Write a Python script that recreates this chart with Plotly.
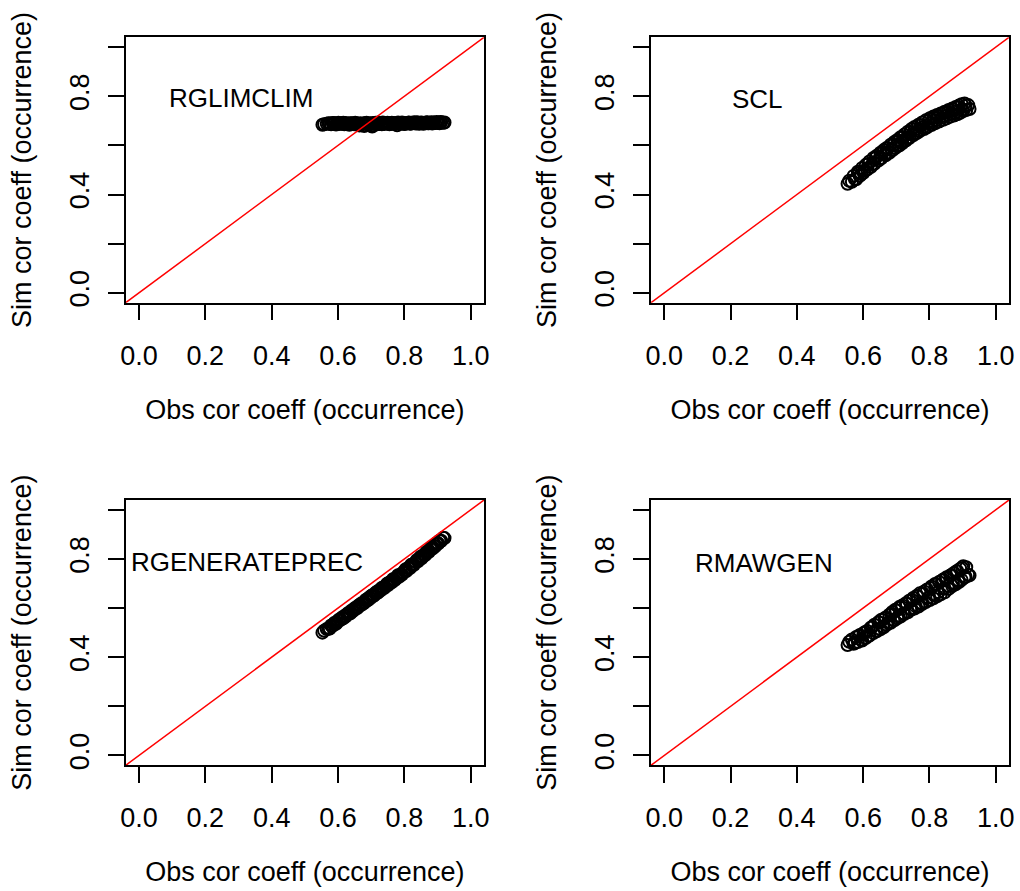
import plotly.graph_objects as go

# Observed inter-station correlation of precipitation occurrence (shared by all panels)
obs_cor = [
    0.553, 0.566, 0.571, 0.579, 0.584, 0.590, 0.597, 0.601, 0.608, 0.612,
    0.619, 0.623, 0.631, 0.634, 0.641, 0.646, 0.652, 0.655, 0.662, 0.668,
    0.671, 0.679, 0.683, 0.688, 0.694, 0.697, 0.703, 0.709, 0.713, 0.718,
    0.724, 0.729, 0.735, 0.739, 0.746, 0.751, 0.755, 0.762, 0.767, 0.771,
    0.778, 0.784, 0.789, 0.793, 0.801, 0.806, 0.812, 0.817, 0.823, 0.829,
    0.834, 0.841, 0.846, 0.852, 0.858, 0.863, 0.869, 0.874, 0.879, 0.884,
    0.889, 0.893, 0.897, 0.902, 0.906, 0.911, 0.917, 0.921,
    0.558, 0.575, 0.587, 0.594, 0.605, 0.616, 0.627, 0.638, 0.649, 0.659,
    0.665, 0.675, 0.686, 0.691, 0.700, 0.706, 0.716, 0.721, 0.732, 0.742,
    0.749, 0.758, 0.765, 0.775, 0.781, 0.797, 0.804, 0.814, 0.820, 0.826,
    0.838, 0.844, 0.849, 0.855, 0.866, 0.871, 0.882, 0.887, 0.899, 0.909,
]

# Simulated correlations, one series per weather generator
sim_rglimclim = [
    0.684, 0.688, 0.690, 0.686, 0.691, 0.689, 0.687, 0.692, 0.688, 0.690,
    0.686, 0.691, 0.689, 0.684, 0.690, 0.687, 0.692, 0.688, 0.683, 0.690,
    0.686, 0.679, 0.691, 0.688, 0.684, 0.690, 0.677, 0.689, 0.692, 0.686,
    0.690, 0.688, 0.693, 0.687, 0.691, 0.689, 0.686, 0.692, 0.690, 0.688,
    0.682, 0.691, 0.689, 0.693, 0.687, 0.690, 0.692, 0.688, 0.691, 0.694,
    0.689, 0.692, 0.690, 0.693, 0.688, 0.691, 0.694, 0.690, 0.692, 0.689,
    0.693, 0.691, 0.695, 0.692, 0.690, 0.694, 0.692, 0.693,
    0.686, 0.689, 0.691, 0.685, 0.688, 0.692, 0.687, 0.690, 0.686, 0.689,
    0.681, 0.688, 0.692, 0.685, 0.680, 0.691, 0.688, 0.693, 0.686, 0.690,
    0.692, 0.687, 0.691, 0.689, 0.693, 0.688, 0.690, 0.693, 0.689, 0.691,
    0.694, 0.688, 0.692, 0.690, 0.693, 0.690, 0.694, 0.691, 0.692, 0.695,
]
sim_scl = [
    0.444, 0.452, 0.476, 0.462, 0.493, 0.476, 0.508, 0.489, 0.521, 0.502,
    0.535, 0.512, 0.549, 0.525, 0.558, 0.538, 0.570, 0.548, 0.581, 0.560,
    0.590, 0.570, 0.603, 0.580, 0.614, 0.589, 0.622, 0.600, 0.633, 0.609,
    0.644, 0.620, 0.656, 0.630, 0.667, 0.641, 0.675, 0.650, 0.684, 0.658,
    0.693, 0.667, 0.702, 0.674, 0.711, 0.683, 0.718, 0.690, 0.724, 0.697,
    0.730, 0.704, 0.737, 0.710, 0.744, 0.717, 0.750, 0.722, 0.756, 0.727,
    0.762, 0.733, 0.768, 0.740, 0.771, 0.744, 0.764, 0.748,
    0.456, 0.463, 0.488, 0.484, 0.498, 0.524, 0.524, 0.549, 0.546, 0.570,
    0.563, 0.587, 0.583, 0.603, 0.598, 0.618, 0.613, 0.633, 0.630, 0.654,
    0.646, 0.667, 0.660, 0.682, 0.673, 0.699, 0.691, 0.712, 0.702, 0.720,
    0.713, 0.731, 0.720, 0.737, 0.729, 0.746, 0.738, 0.754, 0.745, 0.762,
]
sim_rgenerateprec = [
    0.500, 0.515, 0.516, 0.529, 0.528, 0.540, 0.541, 0.551, 0.552, 0.562,
    0.568, 0.566, 0.580, 0.577, 0.590, 0.589, 0.601, 0.598, 0.611, 0.611,
    0.620, 0.622, 0.632, 0.631, 0.643, 0.640, 0.652, 0.652, 0.662, 0.661,
    0.673, 0.672, 0.684, 0.682, 0.695, 0.694, 0.704, 0.705, 0.716, 0.714,
    0.727, 0.727, 0.738, 0.737, 0.751, 0.751, 0.763, 0.763, 0.776, 0.776,
    0.788, 0.790, 0.802, 0.803, 0.816, 0.816, 0.829, 0.829, 0.841, 0.841,
    0.853, 0.852, 0.863, 0.863, 0.874, 0.874, 0.886, 0.885,
    0.508, 0.517, 0.535, 0.536, 0.553, 0.558, 0.575, 0.580, 0.597, 0.601,
    0.613, 0.617, 0.635, 0.634, 0.649, 0.649, 0.665, 0.664, 0.682, 0.687,
    0.700, 0.704, 0.717, 0.721, 0.734, 0.745, 0.758, 0.764, 0.776, 0.777,
    0.796, 0.797, 0.809, 0.810, 0.828, 0.828, 0.847, 0.846, 0.866, 0.872,
]
sim_rmawgen = [
    0.450, 0.472, 0.455, 0.482, 0.462, 0.490, 0.468, 0.498, 0.478, 0.507,
    0.488, 0.520, 0.498, 0.532, 0.506, 0.543, 0.514, 0.553, 0.522, 0.562,
    0.532, 0.573, 0.540, 0.584, 0.550, 0.593, 0.558, 0.604, 0.566, 0.611,
    0.576, 0.620, 0.583, 0.630, 0.594, 0.641, 0.598, 0.650, 0.606, 0.660,
    0.616, 0.668, 0.625, 0.676, 0.633, 0.688, 0.640, 0.698, 0.648, 0.706,
    0.656, 0.716, 0.664, 0.726, 0.678, 0.733, 0.690, 0.743, 0.697, 0.751,
    0.706, 0.760, 0.715, 0.770, 0.724, 0.766, 0.736, 0.733,
    0.463, 0.458, 0.487, 0.470, 0.502, 0.487, 0.523, 0.508, 0.541, 0.525,
    0.558, 0.540, 0.576, 0.552, 0.590, 0.566, 0.604, 0.578, 0.618, 0.595,
    0.632, 0.608, 0.647, 0.620, 0.660, 0.642, 0.681, 0.652, 0.697, 0.665,
    0.712, 0.679, 0.720, 0.690, 0.735, 0.700, 0.750, 0.713, 0.763, 0.728,
]

panel_names = ["RGLIMCLIM", "SCL", "RGENERATEPREC", "RMAWGEN"]
panel_sims = [sim_rglimclim, sim_scl, sim_rgenerateprec, sim_rmawgen]
label_pos = [(0.307, 0.795), (0.28, 0.79), (0.325, 0.787), (0.302, 0.785)]

tick_vals = [0.0, 0.2, 0.4, 0.6, 0.8, 1.0]
x_tick_text = ["0.0", "0.2", "0.4", "0.6", "0.8", "1.0"]
y_tick_text = ["0.0", "", "0.4", "", "0.8", ""]
AXIS_RANGE = [-0.04, 1.04]

W, H = 1020, 891
# plot boxes in pixels: (left, right, top, bottom)
boxes = [
    (125.7, 484.0, 37.3, 302.7),
    (651.0, 1009.0, 37.3, 302.7),
    (125.7, 484.0, 500.0, 765.3),
    (651.0, 1009.0, 500.0, 765.3),
]

FONT = "Liberation Sans, Arial, Helvetica, sans-serif"
fig = go.Figure()
layout = dict(
    width=W, height=H,
    margin=dict(l=0, r=0, t=0, b=0),
    paper_bgcolor="white", plot_bgcolor="white",
    showlegend=False,
    font=dict(family=FONT, size=27, color="black"),
    annotations=[],
)

for i, (name, sim) in enumerate(zip(panel_names, panel_sims)):
    k = "" if i == 0 else str(i + 1)
    xa, ya = "x" + k, "y" + k
    left, right, top, bottom = boxes[i]
    common = dict(
        range=AXIS_RANGE, autorange=False,
        showline=True, linecolor="black", linewidth=1.5, mirror=True,
        ticks="outside", ticklen=16, tickwidth=1.5, tickcolor="black",
        tickmode="array", tickvals=tick_vals,
        showgrid=False, zeroline=False, automargin=False,
        tickfont=dict(family=FONT, size=27, color="black"),
    )
    layout["xaxis" + k] = dict(
        common,
        domain=[left / W, right / W],
        anchor=ya,
        ticktext=x_tick_text,
        ticklabelstandoff=12,
        title=dict(text="Obs cor coeff (occurrence)", standoff=30,
                   font=dict(family=FONT, size=27, color="black")),
    )
    layout["yaxis" + k] = dict(
        common,
        domain=[1 - bottom / H, 1 - top / H],
        anchor=xa,
        ticktext=y_tick_text,
        tickangle=-90,
        ticklabelstandoff=8,
        title=dict(text="Sim cor coeff (occurrence)", standoff=26,
                   font=dict(family=FONT, size=27, color="black")),
    )

    fig.add_trace(go.Scatter(
        x=obs_cor, y=sim, mode="markers", xaxis=xa, yaxis=ya,
        marker=dict(symbol="circle-open", size=12, color="black",
                    line=dict(width=2, color="black")),
        hoverinfo="skip",
    ))
    # 1:1 reference line
    fig.add_trace(go.Scatter(
        x=AXIS_RANGE, y=AXIS_RANGE, mode="lines", xaxis=xa, yaxis=ya,
        line=dict(color="red", width=1.5), hoverinfo="skip",
    ))
    lx, ly = label_pos[i]
    layout["annotations"].append(dict(
        x=lx, y=ly, xref=xa, yref=ya, text=name, showarrow=False,
        font=dict(family=FONT, size=26, color="black"),
        xanchor="center", yanchor="middle",
    ))

fig.update_layout(**layout)
fig.write_html("out.html")
